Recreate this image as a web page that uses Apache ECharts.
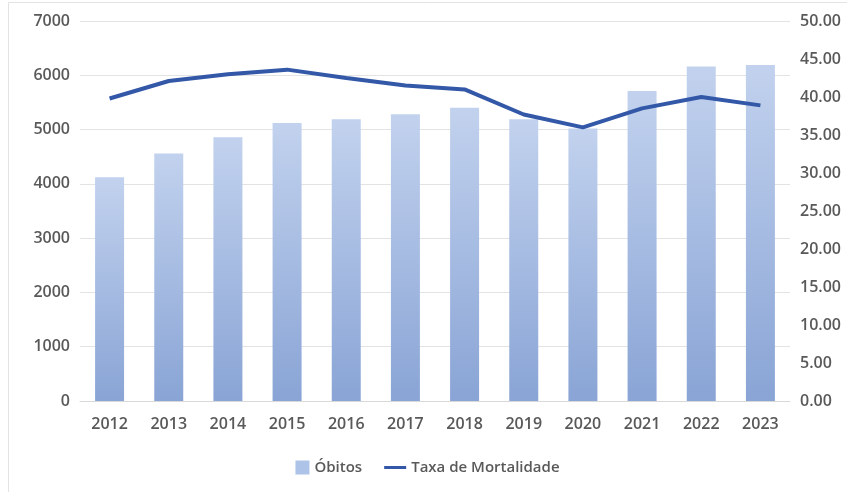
<!DOCTYPE html>
<html>
<head>
<meta charset="utf-8">
<script src="https://cdn.jsdelivr.net/npm/echarts@6/dist/echarts.min.js"></script>
<style>html,body{margin:0;padding:0;background:#fff}#c{width:847px;height:492px}</style>
</head>
<body>
<div id="c"></div>
<script>
const categories = ['2012','2013','2014','2015','2016','2017','2018','2019','2020','2021','2022','2023'];
const obitos = [4120, 4560, 4860, 5120, 5190, 5280, 5400, 5190, 5020, 5710, 6160, 6190];
const taxa = [39.8, 42.1, 43.0, 43.6, 42.5, 41.5, 41.0, 37.7, 36.0, 38.5, 40.0, 38.9];
const leftTicks = {min: 0, max: 7000, interval: 1000};
const rightTicks = {min: 0, max: 50, interval: 5};

const chart = echarts.init(document.getElementById('c'), null, {renderer: 'canvas'});
const labelStyle = {color: '#595959', fontSize: 16, fontWeight: 600, fontFamily: 'Open Sans'};
const barGrad = new echarts.graphic.LinearGradient(0, 0, 0, 1, [
  {offset: 0, color: '#c2d2ee'},
  {offset: 1, color: '#89a4d5'}
]);
chart.setOption({
  animation: false,
  graphic: [{
    type: 'rect', shape: {x: 8.5, y: 2.5, width: 860, height: 600},
    style: {fill: 'none', stroke: '#e3e3e3', lineWidth: 1}, silent: true, z: -1
  }],
  grid: {left: 80, right: 57, top: 21, bottom: 91},
  legend: {
    bottom: 12, left: 'center', itemGap: 22, itemWidth: 22, itemHeight: 14,
    textStyle: {color: '#595959', fontSize: 15, fontWeight: 600, fontFamily: 'Open Sans', padding: [0, 0, 0, 0]},
    data: [
      {name: 'Óbitos', icon: 'path://M0,0 M8,0 L22,0 L22,14 L8,14 Z M22,14', itemStyle: {color: '#aec3e8'}},
      {name: 'Taxa de Mortalidade', icon: 'path://M0,0 M0,5.5 L22,5.5 L22,8.5 L0,8.5 Z M22,14', itemStyle: {color: '#3358a8'}}
    ]
  },
  xAxis: {
    type: 'category', data: categories,
    axisLine: {lineStyle: {color: '#d9d9d9'}},
    axisTick: {show: false},
    axisLabel: Object.assign({margin: 15}, labelStyle)
  },
  yAxis: [{
    type: 'value', min: leftTicks.min, max: leftTicks.max, interval: leftTicks.interval,
    position: 'left',
    axisLine: {show: false}, axisTick: {show: false},
    axisLabel: Object.assign({margin: 10, formatter: v => String(v)}, labelStyle),
    splitLine: {lineStyle: {color: '#e3e3e3'}}
  }, {
    type: 'value', min: rightTicks.min, max: rightTicks.max, interval: rightTicks.interval,
    position: 'right',
    axisLine: {show: false}, axisTick: {show: false},
    axisLabel: Object.assign({margin: 10, formatter: v => v.toFixed(2)}, labelStyle),
    splitLine: {show: false}
  }],
  series: [{
    name: 'Óbitos', type: 'bar', data: obitos, yAxisIndex: 0,
    barWidth: '49%',
    itemStyle: {color: barGrad}
  }, {
    name: 'Taxa de Mortalidade', type: 'line', data: taxa, yAxisIndex: 1,
    symbol: 'none', lineStyle: {color: '#3358a8', width: 4},
    itemStyle: {color: '#3358a8'}
  }]
});
</script>
</body>
</html>
